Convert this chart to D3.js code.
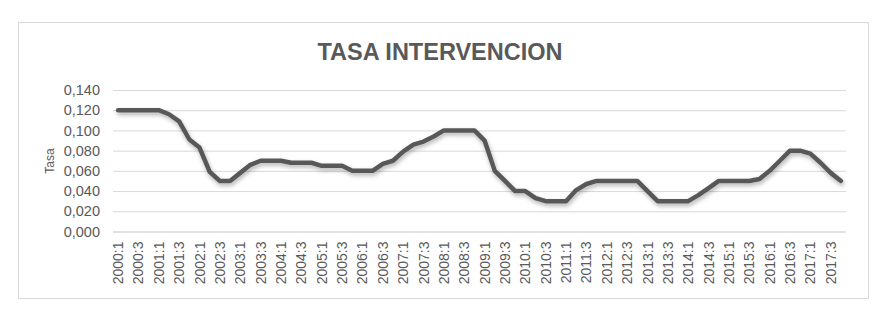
<!DOCTYPE html>
<html>
<head>
<meta charset="utf-8">
<script src="https://cdnjs.cloudflare.com/ajax/libs/d3/7.8.5/d3.min.js"></script>
<style>
    body { margin: 0; background: #fff; }
    #chart-area text { font-family: "Liberation Sans", Arial, sans-serif; fill: #595959; }
</style>
</head>
<body>
<div id="chart-area"></div>
<script>

// quarters (category axis)
var categories = [
    "2000:1","2000:2","2000:3","2000:4","2001:1","2001:2","2001:3","2001:4",
    "2002:1","2002:2","2002:3","2002:4","2003:1","2003:2","2003:3","2003:4",
    "2004:1","2004:2","2004:3","2004:4","2005:1","2005:2","2005:3","2005:4",
    "2006:1","2006:2","2006:3","2006:4","2007:1","2007:2","2007:3","2007:4",
    "2008:1","2008:2","2008:3","2008:4","2009:1","2009:2","2009:3","2009:4",
    "2010:1","2010:2","2010:3","2010:4","2011:1","2011:2","2011:3","2011:4",
    "2012:1","2012:2","2012:3","2012:4","2013:1","2013:2","2013:3","2013:4",
    "2014:1","2014:2","2014:3","2014:4","2015:1","2015:2","2015:3","2015:4",
    "2016:1","2016:2","2016:3","2016:4","2017:1","2017:2","2017:3","2017:4"
];

// tasa de intervencion
var tasa = [
    0.120, 0.120, 0.120, 0.120, 0.120, 0.116, 0.109, 0.091,
    0.083, 0.059, 0.050, 0.050, 0.058, 0.066, 0.070, 0.070,
    0.070, 0.068, 0.068, 0.068, 0.065, 0.065, 0.065, 0.060,
    0.060, 0.060, 0.067, 0.070, 0.079, 0.086, 0.089, 0.094,
    0.100, 0.100, 0.100, 0.100, 0.090, 0.060, 0.050, 0.040,
    0.040, 0.033, 0.030, 0.030, 0.030, 0.041, 0.047, 0.050,
    0.050, 0.050, 0.050, 0.050, 0.040, 0.030, 0.030, 0.030,
    0.030, 0.036, 0.043, 0.050, 0.050, 0.050, 0.050, 0.052,
    0.060, 0.070, 0.080, 0.080, 0.077, 0.068, 0.058, 0.050
];

var yTicks = [0, 0.02, 0.04, 0.06, 0.08, 0.10, 0.12, 0.14];
var xTickLabels = categories.filter(function(d, i) { return i % 2 === 0; });

var chartTitle = "TASA INTERVENCION";
var yTitle = "Tasa";

/*
 * LineChart - Object constructor function
 */
LineChart = function(_parentElement, _categories, _values) {
    this.parentElement = _parentElement;
    this.categories = _categories;
    this.values = _values;

    this.initVis();
}

LineChart.prototype.initVis = function() {
    var vis = this;

    vis.width = 887;
    vis.height = 316;
    vis.plot = {left: 113, right: 846, top: 90, bottom: 231.5};

    vis.svg = d3.select("#" + vis.parentElement).append("svg")
        .attr("width", vis.width)
        .attr("height", vis.height);

    // shadow under the line
    var filter = vis.svg.append("defs").append("filter")
        .attr("id", "shadow")
        .attr("x", "-5%").attr("y", "-20%")
        .attr("width", "110%").attr("height", "140%");
    filter.append("feDropShadow")
        .attr("dx", 1).attr("dy", 2.5)
        .attr("stdDeviation", 2)
        .attr("flood-color", "#000")
        .attr("flood-opacity", 0.3);

    // chart border
    vis.svg.append("rect")
        .attr("x", 18.5).attr("y", 22.5)
        .attr("width", 850).attr("height", 276)
        .attr("fill", "#fff")
        .attr("stroke", "#d9d9d9");

    vis.svg.append("text")
        .attr("x", 440).attr("y", 60)
        .attr("text-anchor", "middle")
        .style("font-size", "23.5px")
        .style("font-weight", "bold")
        .text(chartTitle);

    vis.x = d3.scaleBand()
        .domain(vis.categories)
        .range([vis.plot.left, vis.plot.right]);

    vis.y = d3.scaleLinear()
        .domain([0, 0.14])
        .range([vis.plot.bottom, vis.plot.top]);

    vis.wrangleData();
}

LineChart.prototype.wrangleData = function() {
    var vis = this;

    vis.displayData = vis.categories.map(function(c, i) {
        return {cat: c, val: vis.values[i]};
    });

    vis.updateVis();
}

LineChart.prototype.updateVis = function() {
    var vis = this;

    var fmt = d3.formatLocale({decimal: ",", thousands: ".", grouping: [3], currency: ["", ""]}).format(".3f");

    // y axis + gridlines
    var yAxis = d3.axisLeft(vis.y)
        .tickValues(yTicks)
        .tickSize(-(vis.plot.right - vis.plot.left))
        .tickPadding(13)
        .tickFormat(fmt);

    var gy = vis.svg.append("g")
        .attr("transform", "translate(" + vis.plot.left + ",0)")
        .call(yAxis);
    gy.select(".domain").remove();
    gy.selectAll(".tick line")
        .attr("stroke", "#d9d9d9")
        .attr("stroke-width", function(d) { return d === 0 ? 1.5 : 1; });
    gy.selectAll(".tick text")
        .style("font-size", "14.5px");

    // x axis, every second quarter
    var xAxis = d3.axisBottom(vis.x)
        .tickValues(xTickLabels)
        .tickSize(0);

    var gx = vis.svg.append("g")
        .attr("transform", "translate(0," + vis.plot.bottom + ")")
        .call(xAxis);
    gx.select(".domain").remove();
    gx.selectAll(".tick text")
        .style("font-size", "14px")
        .attr("transform", "rotate(-90)")
        .attr("text-anchor", "end")
        .attr("x", -10)
        .attr("y", 0)
        .attr("dy", "0.36em");

    // axis title
    vis.svg.append("text")
        .attr("transform", "translate(54,161) rotate(-90)")
        .attr("text-anchor", "middle")
        .style("font-size", "12px")
        .text(yTitle);

    var line = d3.line()
        .x(function(d) { return vis.x(d.cat) + vis.x.bandwidth() / 2; })
        .y(function(d) { return vis.y(d.val); });

    vis.svg.append("path")
        .datum(vis.displayData)
        .attr("d", line)
        .attr("fill", "none")
        .attr("stroke", "#595959")
        .attr("stroke-width", 4.5)
        .attr("stroke-linejoin", "round")
        .attr("stroke-linecap", "round")
        .attr("filter", "url(#shadow)");
}

new LineChart("chart-area", categories, tasa);

</script>
</body>
</html>
